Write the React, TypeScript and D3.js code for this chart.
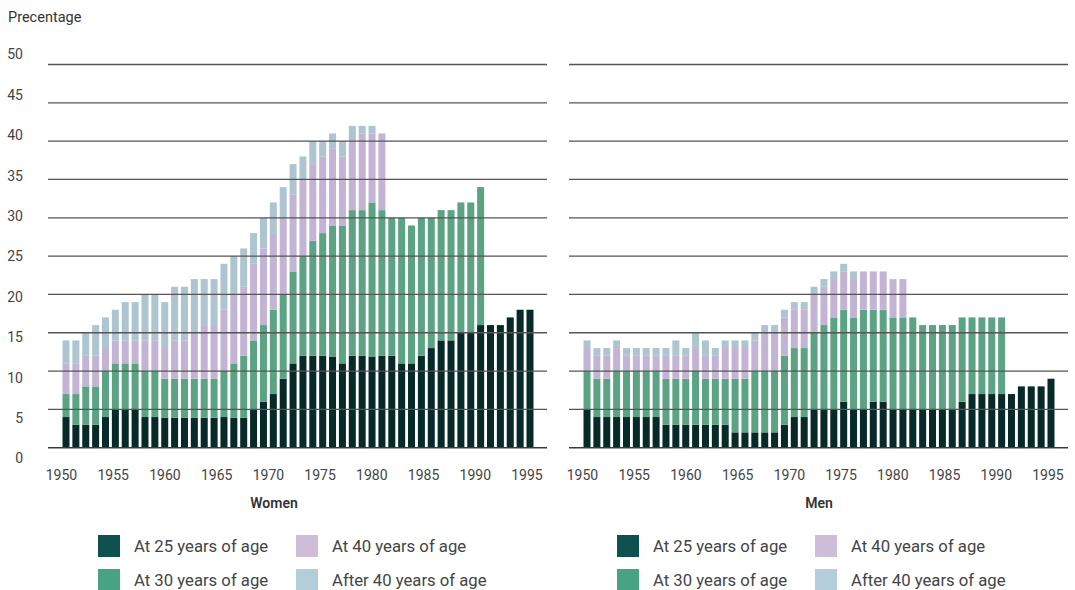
import React from "react";
import * as d3 from "d3";

const categories = [
  1950, 1951, 1952, 1953, 1954, 1955, 1956, 1957, 1958, 1959,
  1960, 1961, 1962, 1963, 1964, 1965, 1966, 1967, 1968, 1969,
  1970, 1971, 1972, 1973, 1974, 1975, 1976, 1977, 1978, 1979,
  1980, 1981, 1982, 1983, 1984, 1985, 1986, 1987, 1988, 1989,
  1990, 1991, 1992, 1993, 1994, 1995, 1996, 1997,
];

const xTickYears = [1950, 1955, 1960, 1965, 1970, 1975, 1980, 1985, 1990, 1995];
const yTicks = [0, 5, 10, 15, 20, 25, 30, 35, 40, 45, 50];

const seriesKeys = ["a25", "a30", "a40", "after40"];
const seriesLabels = [
  "At 25 years of age",
  "At 30 years of age",
  "At 40 years of age",
  "After 40 years of age",
];
const barColors = ["#072a29", "#5ba383", "#c3b4d5", "#adc5d0"];
const legendColors = ["#0e514e", "#48a385", "#cdbdd6", "#b3ced8"];

// Women
const womenAt25 = [4, 3, 3, 3, 4, 5, 5, 5, 4, 4, 3.9, 3.9, 3.9, 3.9, 3.9, 3.9, 4, 3.9, 3.9, 5, 6, 7, 9, 11, 12, 12, 12, 11.9, 11, 12, 12, 11.9, 12, 12, 11, 11, 12, 13, 14, 14, 15, 15, 16, 16, 16, 17, 18, 18];
const womenAt30 = [3, 4, 5, 5, 6, 6, 6, 6, 6, 6, 5.1, 5.1, 5.1, 5.1, 5.1, 5.1, 6, 7.1, 8.1, 9, 10, 11, 11, 12, 13, 15, 16, 17.1, 18, 19, 19, 20.1, 19, 18, 19, 18, 18, 17, 17, 17, 17, 17, 18, 0, 0, 0, 0, 0];
const womenAt40 = [4, 4, 4, 4, 3, 3, 3, 3, 4, 4, 4, 5, 5, 6, 7, 7, 8, 9, 9, 10, 10, 10, 10, 10, 10, 10, 10, 10, 9, 9, 10, 9, 10, 0, 0, 0, 0, 0, 0, 0, 0, 0, 0, 0, 0, 0, 0, 0];
const womenAfter40 = [3, 3, 3, 4, 4, 4, 5, 5, 6, 6, 6, 7, 7, 7, 6, 6, 6, 5, 5, 4, 4, 4, 4, 4, 3, 3, 2, 2, 2, 2, 1, 1, 0, 0, 0, 0, 0, 0, 0, 0, 0, 0, 0, 0, 0, 0, 0, 0];

// Men
const menAt25 = [5, 4, 4, 4, 4, 4, 4, 4, 3, 3, 3, 3, 3, 3, 3, 2, 2, 2, 2, 2, 3, 4, 4, 5, 5, 5, 6, 5, 5, 6, 6, 5, 5, 5, 5, 5, 5, 5, 6, 7, 7, 7, 7, 7, 8, 8, 8, 9];
const menAt30 = [5, 5, 5, 6, 6, 6, 6, 6, 6, 6, 6, 7, 6, 6, 6, 7, 7, 8, 8, 8, 9, 9, 9, 10, 11, 12, 12, 12, 13, 12, 12, 12, 12, 12, 11, 11, 11, 11, 11, 10, 10, 10, 10, 0, 0, 0, 0, 0];
const menAt40 = [3, 3, 3, 3, 2, 2, 2, 2, 3, 3, 3, 3, 3, 3, 4, 4, 4, 4, 5, 5, 5, 5, 5, 5, 5, 5, 5, 5, 5, 5, 5, 5, 5, 0, 0, 0, 0, 0, 0, 0, 0, 0, 0, 0, 0, 0, 0, 0];
const menAfter40 = [1, 1, 1, 1, 1, 1, 1, 1, 1, 2, 1, 2, 2, 1, 1, 1, 1, 1, 1, 1, 1, 1, 1, 1, 1, 1, 1, 1, 0, 0, 0, 0, 0, 0, 0, 0, 0, 0, 0, 0, 0, 0, 0, 0, 0, 0, 0, 0];

const FONT = "Roboto, 'DejaVu Sans', sans-serif";

const y = d3.scaleLinear().domain([0, 50]).range([447.7, 64.5]);
const yLabel = d3.scaleLinear().domain([0, 50]).range([458.5, 54.5]);

type PanelProps = {
  left: number;
  title: string;
  titleX: number;
  series: number[][];
  legendX: number;
};

function Panel({ left, title, titleX, series, legendX }: PanelProps) {
  const width = 499;
  const x = d3
    .scaleBand<number>()
    .domain(categories)
    .range([left + 14.5, left + 485.5])
    .paddingInner(0.29)
    .paddingOuter(0);
  const xTick = d3.scaleLinear().domain([1950, 1995]).range([left + 13.5, left + 479]);

  const rows = categories.map((c, i) => {
    const r: any = { year: c };
    seriesKeys.forEach((k, j) => (r[k] = series[j][i]));
    return r;
  });
  const stacked = d3.stack<any>().keys(seriesKeys)(rows);

  return (
    <g>
      {stacked.map((layer, li) => (
        <g key={layer.key} fill={barColors[li]}>
          {layer.map((d, i) =>
            d[1] - d[0] > 0 ? (
              <rect
                key={i}
                x={x(rows[i].year)}
                width={x.bandwidth()}
                y={y(d[1])}
                height={y(d[0]) - y(d[1])}
              />
            ) : null
          )}
        </g>
      ))}
      {yTicks.map((t) => (
        <line
          key={t}
          x1={left}
          x2={left + width}
          y1={y(t)}
          y2={y(t)}
          stroke={t === 0 ? "#3a3a3a" : "#555"}
          strokeWidth={t === 0 ? 1.6 : 1.3}
        />
      ))}
      {xTickYears.map((t) => (
        <text
          key={t}
          x={xTick(t)}
          y={480}
          textAnchor="middle"
          fontSize={14}
          fill="#444"
          fontFamily={FONT}
        >
          {t}
        </text>
      ))}
      <text
        x={titleX}
        y={508}
        textAnchor="middle"
        fontSize={14}
        fontWeight={600}
        fill="#333"
        fontFamily={FONT}
      >
        {title}
      </text>
      {seriesLabels.map((lab, i) => {
        const col = i < 2 ? 0 : 1;
        const row = i % 2;
        const lx = legendX + col * 198;
        const ly = 535 + row * 34;
        return (
          <g key={lab}>
            <rect x={lx} y={ly} width={22} height={22} fill={legendColors[i]} />
            <text
              x={lx + 36}
              y={ly + 11}
              dy="0.35em"
              fontSize={16.7}
              fill="#444"
              fontFamily={FONT}
            >
              {lab}
            </text>
          </g>
        );
      })}
    </g>
  );
}

export default function App() {
  return (
    <svg
      width={1075}
      height={590}
      style={{ position: "absolute", left: 0, top: 0, background: "#fff" }}
    >
      <text x={8} y={22} fontSize={14.5} fill="#333" fontFamily={FONT}>
        Precentage
      </text>
      {yTicks.map((t) => (
        <text
          key={t}
          x={23}
          y={yLabel(t)}
          dy="0.35em"
          textAnchor="end"
          fontSize={14}
          fill="#444"
          fontFamily={FONT}
        >
          {t}
        </text>
      ))}
      <Panel
        left={48}
        title="Women"
        titleX={274}
        series={[womenAt25, womenAt30, womenAt40, womenAfter40]}
        legendX={98}
      />
      <Panel
        left={569}
        title="Men"
        titleX={819}
        series={[menAt25, menAt30, menAt40, menAfter40]}
        legendX={617}
      />
    </svg>
  );
}
